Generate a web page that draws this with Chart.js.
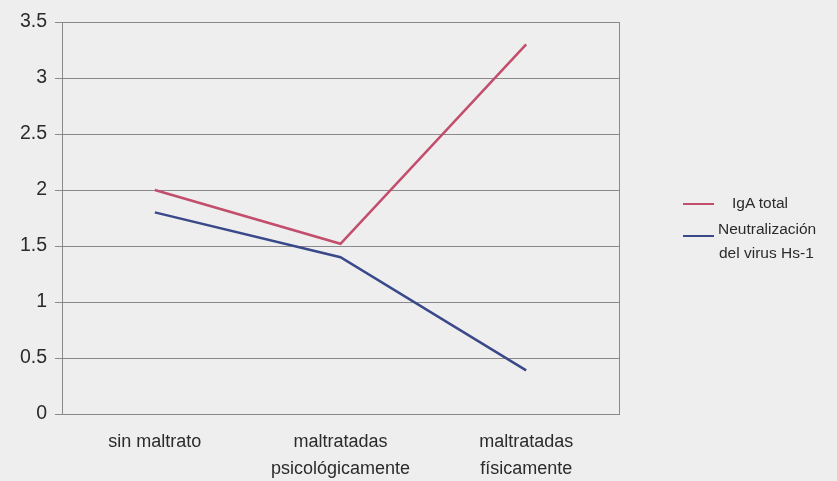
<!DOCTYPE html>
<html>
<head>
<meta charset="utf-8">
<script src="https://cdn.jsdelivr.net/npm/chart.js@4"></script>
<style>
  html, body { margin: 0; padding: 0; background: #eeeeee; }
  #wrap { position: relative; width: 837px; height: 481px; }
  #legend { position: absolute; left: 683px; top: 192px; font-family: "Liberation Sans", Arial, sans-serif; font-size: 15.5px; color: #2b2b2b; }
  .item { position: relative; height: 26px; }
  .swatch { position: absolute; left: 0; width: 31px; height: 0; border-top: 2px solid; }
  .txt { position: absolute; white-space: nowrap; line-height: 24px; }
</style>
</head>
<body>
<div id="wrap">
  <canvas id="grafico" width="837" height="481"></canvas>
  <div id="legend"></div>
</div>
<script>
const categorias = [["sin maltrato"], ["maltratadas", "psicológicamente"], ["maltratadas", "físicamente"]];
const igaTotal = [2.0, 1.52, 3.3];
const neutralizacion = [1.8, 1.4, 0.39];
const nomeSeries = ["IgA total", "Neutralización del virus Hs-1"];
const coresSeries = ["#c24d6c", "#3a4989"];

const corGrade = "#8a8a8a";
const corTexto = "#2b2b2b";

const bordaPlugin = {
    id: "borda",
    afterDraw(chart) {
        const area = chart.chartArea;
        const ctx = chart.ctx;
        ctx.save();
        ctx.strokeStyle = corGrade;
        ctx.lineWidth = 1;
        ctx.beginPath();
        ctx.moveTo(Math.round(area.right) + 0.5, area.top);
        ctx.lineTo(Math.round(area.right) + 0.5, area.bottom);
        ctx.stroke();
        ctx.restore();
    }
};

const ctx = document.getElementById("grafico").getContext("2d");

new Chart(ctx, {
    type: "line",
    data: {
        labels: categorias,
        datasets: [{
            label: nomeSeries[0],
            data: igaTotal,
            borderColor: coresSeries[0],
            borderWidth: 2.5,
            pointRadius: 0,
            tension: 0
        }, {
            label: nomeSeries[1],
            data: neutralizacion,
            borderColor: coresSeries[1],
            borderWidth: 2.5,
            pointRadius: 0,
            tension: 0
        }]
    },
    options: {
        responsive: false,
        animation: false,
        layout: { padding: { left: 0, top: 22, right: 218, bottom: 0 } },
        plugins: {
            legend: { display: false },
            tooltip: { enabled: false }
        },
        scales: {
            x: {
                offset: true,
                grid: { display: false },
                border: { display: true, color: corGrade, width: 1 },
                ticks: {
                    color: corTexto,
                    font: { family: "'Liberation Sans', Arial, sans-serif", size: 18, lineHeight: 1.5 },
                    padding: 7,
                    maxRotation: 0
                },
                afterFit(scale) { scale.height = 67; }
            },
            y: {
                min: 0,
                max: 3.5,
                ticks: {
                    stepSize: 0.5,
                    color: corTexto,
                    font: { family: "'Liberation Sans', Arial, sans-serif", size: 19.5 },
                    padding: 8,
                    callback: v => String(v)
                },
                grid: { color: corGrade, lineWidth: 1, tickLength: 7, tickColor: corGrade },
                border: { display: true, color: corGrade, width: 1 },
                afterFit(scale) { scale.width = 62; }
            }
        }
    },
    plugins: [bordaPlugin]
});

// legenda em html
const legenda = document.getElementById("legend");
legenda.innerHTML = `
    <div class="item"><div class="swatch" style="top:11px;border-color:${coresSeries[0]}"></div><div class="txt" style="left:49px;top:-1px">${nomeSeries[0]}</div></div>
    <div class="item" style="height:50px"><div class="swatch" style="top:17px;border-color:${coresSeries[1]}"></div><div class="txt" style="left:35px;top:-1px">Neutralización</div><div class="txt" style="left:36px;top:23px">del virus Hs-1</div></div>
`;
</script>
</body>
</html>
